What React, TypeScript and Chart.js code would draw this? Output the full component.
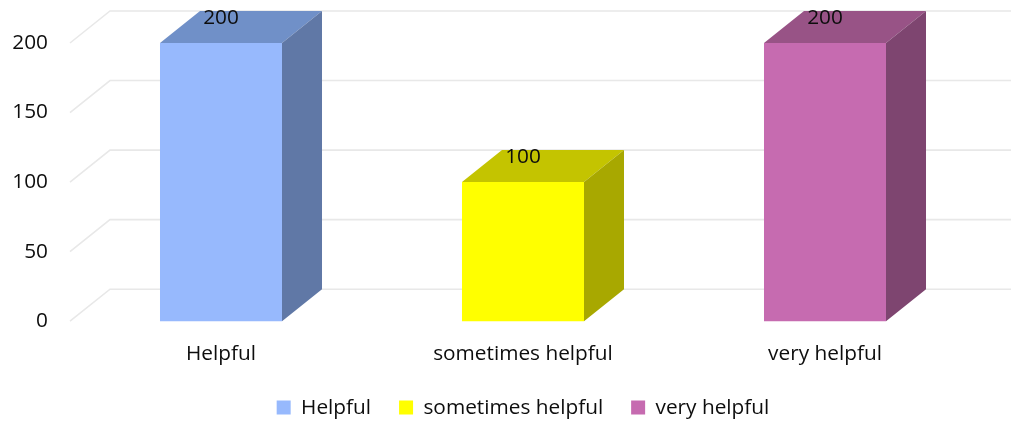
import React, { useEffect, useRef } from 'react';
import { Chart, registerables } from 'chart.js';

Chart.register(...registerables);

const categories = ['Helpful', 'sometimes helpful', 'very helpful'];
const values = [200, 100, 200];
const frontColors = ['#97B9FD', '#FFFF00', '#C66BB0'];
const topColors = ['#7090C8', '#C4C400', '#985386'];
const sideColors = ['#6078A6', '#A8A800', '#7E4570'];
const yMin = 0;
const yMax = 200;
const yStep = 50;

const DX = 40;
const DY = 32;
const FONT = 'Open Sans';
const FS = 20.8;
const TEXT = '#0d0d0d';

const threeD = {
  id: 'threeD',
  beforeDatasetsDraw(chart: any) {
    const { ctx, chartArea, scales } = chart;
    const y = scales.y;
    ctx.save();
    ctx.strokeStyle = '#e8e8e8';
    ctx.lineWidth = 1.6;
    y.ticks.forEach((t: any) => {
      const py = y.getPixelForValue(t.value);
      ctx.beginPath();
      ctx.moveTo(chartArea.left, py);
      ctx.lineTo(chartArea.left + DX, py - DY);
      ctx.lineTo(chartArea.right + DX, py - DY);
      ctx.stroke();
    });
    ctx.restore();
  },
  afterDatasetsDraw(chart: any) {
    const { ctx } = chart;
    const meta = chart.getDatasetMeta(0);
    ctx.save();
    meta.data.forEach((bar: any, i: number) => {
      const { x, y, base, width } = bar.getProps(['x', 'y', 'base', 'width'], true);
      const l = x - width / 2;
      const r = x + width / 2;
      ctx.fillStyle = topColors[i];
      ctx.beginPath();
      ctx.moveTo(l, y);
      ctx.lineTo(l + DX, y - DY);
      ctx.lineTo(r + DX, y - DY);
      ctx.lineTo(r, y);
      ctx.closePath();
      ctx.fill();
      ctx.fillStyle = sideColors[i];
      ctx.beginPath();
      ctx.moveTo(r, y);
      ctx.lineTo(r + DX, y - DY);
      ctx.lineTo(r + DX, base - DY);
      ctx.lineTo(r, base);
      ctx.closePath();
      ctx.fill();
    });
    ctx.fillStyle = TEXT;
    ctx.font = `${FS}px "${FONT}"`;
    ctx.textAlign = 'center';
    ctx.textBaseline = 'middle';
    meta.data.forEach((bar: any, i: number) => {
      const { x, y } = bar.getProps(['x', 'y'], true);
      ctx.fillText(String(values[i]), x, y - 25);
    });
    ctx.restore();
  },
};

export default function App() {
  const ref = useRef<HTMLCanvasElement>(null);
  useEffect(() => {
    const chart = new Chart(ref.current as HTMLCanvasElement, {
      type: 'bar',
      data: {
        labels: categories,
        datasets: [
          {
            data: values,
            backgroundColor: frontColors,
            borderWidth: 0,
            categoryPercentage: 1,
            barPercentage: 0.404,
            clip: false as any,
          },
        ],
      },
      options: {
        responsive: true,
        maintainAspectRatio: false,
        animation: false,
        layout: { padding: { top: 43, right: 35, bottom: -2, left: 0 } },
        font: { family: FONT, size: FS },
        scales: {
          x: {
            grid: { display: false, drawTicks: false },
            border: { display: false },
            ticks: { color: TEXT, padding: 20, font: { family: FONT, size: FS } },
            afterFit: (s: any) => {
              s.height = 48;
            },
          },
          y: {
            min: yMin,
            max: yMax,
            grid: { display: false, drawTicks: false },
            border: { display: false },
            ticks: { stepSize: yStep, color: TEXT, padding: 22, font: { family: FONT, size: FS } },
            afterFit: (s: any) => {
              s.width = 70;
            },
          },
        },
        plugins: {
          legend: {
            position: 'bottom',
            fullSize: false,
            onClick: () => {},
            labels: {
              boxWidth: 14,
              boxHeight: 14,
              padding: 28,
              color: TEXT,
              font: { family: FONT, size: FS },
              generateLabels: () =>
                categories.map((c, i) => ({
                  text: c,
                  fillStyle: frontColors[i],
                  strokeStyle: frontColors[i],
                  lineWidth: 0,
                  hidden: false,
                  index: i,
                  datasetIndex: 0,
                  fontColor: TEXT,
                })),
            },
          },
          tooltip: { enabled: false },
        },
      },
      plugins: [threeD],
    });
    return () => chart.destroy();
  }, []);
  return (
    <div style={{ position: 'fixed', left: 0, top: 0, width: 1011, height: 426 }}>
      <canvas ref={ref} />
    </div>
  );
}
